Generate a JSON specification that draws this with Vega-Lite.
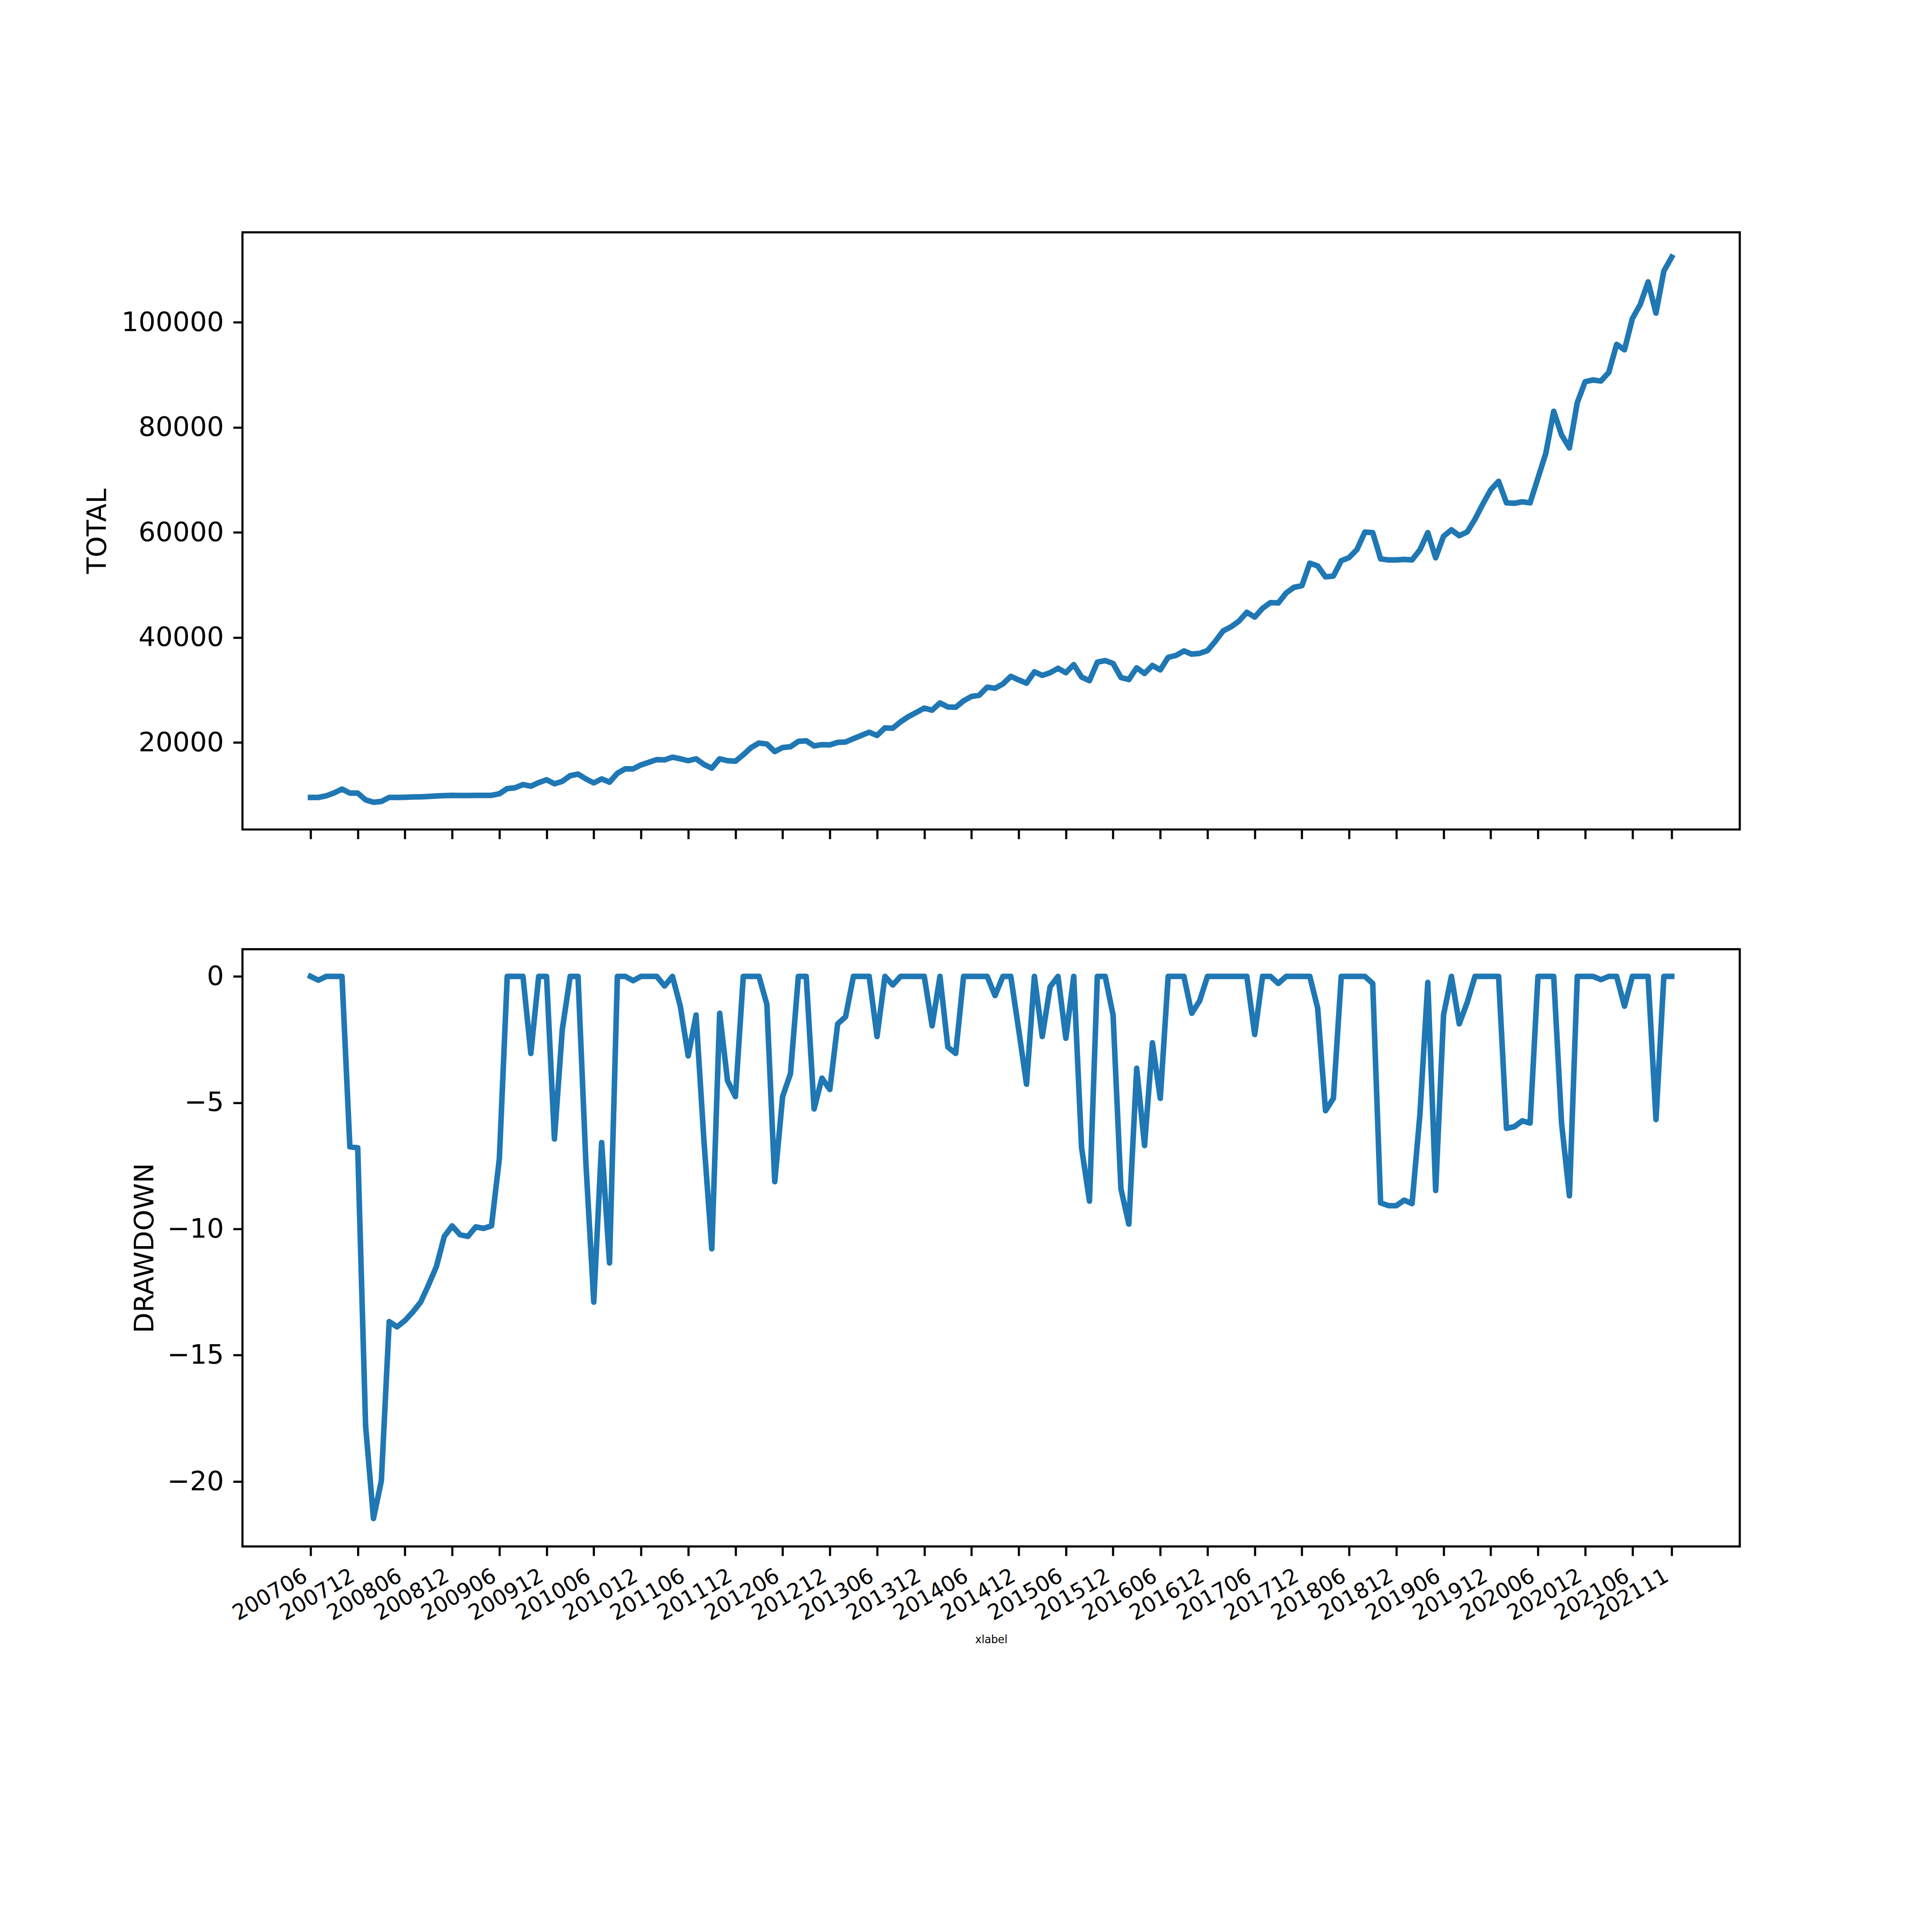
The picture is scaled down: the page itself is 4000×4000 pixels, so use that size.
{
  "$schema": "https://vega.github.io/schema/vega-lite/v6.json",
  "background": "white",
  "padding": {"left": 171, "top": 478, "right": 398, "bottom": 560},
  "bounds": "flush",
  "spacing": 247.3,
  "data": {"values": [
    {"m":"200706","total":9559,"dd":0},{"m":"200707","total":9559,"dd":-0.15},{"m":"200708","total":9865,"dd":0},{"m":"200709","total":10417,"dd":0},{"m":"200710","total":11152,"dd":0},{"m":"200711","total":10386,"dd":-6.75},{"m":"200712","total":10386,"dd":-6.79},
    {"m":"200801","total":9099,"dd":-17.8},{"m":"200802","total":8640,"dd":-21.47},{"m":"200803","total":8793,"dd":-19.98},{"m":"200804","total":9559,"dd":-13.67},{"m":"200805","total":9559,"dd":-13.88},{"m":"200806","total":9589,"dd":-13.63},{"m":"200807","total":9651,"dd":-13.29},{"m":"200808","total":9681,"dd":-12.9},{"m":"200809","total":9743,"dd":-12.22},{"m":"200810","total":9835,"dd":-11.49},{"m":"200811","total":9896,"dd":-10.3},{"m":"200812","total":9957,"dd":-9.88},
    {"m":"200901","total":9926,"dd":-10.23},{"m":"200902","total":9926,"dd":-10.3},{"m":"200903","total":9957,"dd":-9.92},{"m":"200904","total":9957,"dd":-9.98},{"m":"200905","total":9957,"dd":-9.88},{"m":"200906","total":10263,"dd":-7.22},{"m":"200907","total":11244,"dd":0},{"m":"200908","total":11397,"dd":0},{"m":"200909","total":12010,"dd":0},{"m":"200910","total":11703,"dd":-3.05},{"m":"200911","total":12377,"dd":0},{"m":"200912","total":12929,"dd":0},
    {"m":"201001","total":12163,"dd":-6.44},{"m":"201002","total":12623,"dd":-2.1},{"m":"201003","total":13695,"dd":0},{"m":"201004","total":14001,"dd":0},{"m":"201005","total":13082,"dd":-7.4},{"m":"201006","total":12316,"dd":-12.9},{"m":"201007","total":13082,"dd":-6.58},{"m":"201008","total":12469,"dd":-11.35},{"m":"201009","total":14154,"dd":0},{"m":"201010","total":15012,"dd":0},{"m":"201011","total":14987,"dd":-0.17},{"m":"201012","total":15747,"dd":0},
    {"m":"201101","total":16238,"dd":0},{"m":"201102","total":16759,"dd":0},{"m":"201103","total":16695,"dd":-0.38},{"m":"201104","total":17218,"dd":0},{"m":"201105","total":16912,"dd":-1.18},{"m":"201106","total":16544,"dd":-3.15},{"m":"201107","total":16912,"dd":-1.53},{"m":"201108","total":15839,"dd":-6.5},{"m":"201109","total":15135,"dd":-10.79},{"m":"201110","total":16912,"dd":-1.46},{"m":"201111","total":16544,"dd":-4.13},{"m":"201112","total":16452,"dd":-4.76},
    {"m":"201201","total":17678,"dd":0},{"m":"201202","total":19056,"dd":0},{"m":"201203","total":19914,"dd":0},{"m":"201204","total":19730,"dd":-1.11},{"m":"201205","total":18290,"dd":-8.13},{"m":"201206","total":19056,"dd":-4.76},{"m":"201207","total":19209,"dd":-3.85},{"m":"201208","total":20221,"dd":0},{"m":"201209","total":20343,"dd":0},{"m":"201210","total":19363,"dd":-5.25},{"m":"201211","total":19608,"dd":-4.03},{"m":"201212","total":19547,"dd":-4.48},
    {"m":"201301","total":20037,"dd":-1.88},{"m":"201302","total":20098,"dd":-1.6},{"m":"201303","total":20741,"dd":0},{"m":"201304","total":21354,"dd":0},{"m":"201305","total":21967,"dd":0},{"m":"201306","total":21354,"dd":-2.38},{"m":"201307","total":22794,"dd":0},{"m":"201308","total":22733,"dd":-0.34},{"m":"201309","total":23958,"dd":0},{"m":"201310","total":24939,"dd":0},{"m":"201311","total":25735,"dd":0},{"m":"201312","total":26562,"dd":0},
    {"m":"201401","total":26164,"dd":-1.96},{"m":"201402","total":27543,"dd":0},{"m":"201403","total":26777,"dd":-2.8},{"m":"201404","total":26716,"dd":-3.05},{"m":"201405","total":27941,"dd":0},{"m":"201406","total":28768,"dd":0},{"m":"201407","total":29013,"dd":0},{"m":"201408","total":30545,"dd":0},{"m":"201409","total":30331,"dd":-0.76},{"m":"201410","total":31158,"dd":0},{"m":"201411","total":32598,"dd":0},{"m":"201412","total":31924,"dd":-2.1},
    {"m":"201501","total":31311,"dd":-4.27},{"m":"201502","total":33456,"dd":0},{"m":"201503","total":32782,"dd":-2.38},{"m":"201504","total":33300,"dd":-0.41},{"m":"201505","total":34130,"dd":0},{"m":"201506","total":33303,"dd":-2.45},{"m":"201507","total":34835,"dd":0},{"m":"201508","total":32475,"dd":-6.79},{"m":"201509","total":31771,"dd":-8.9},{"m":"201510","total":35294,"dd":0},{"m":"201511","total":35600,"dd":0},{"m":"201512","total":35049,"dd":-1.53},
    {"m":"201601","total":32384,"dd":-8.41},{"m":"201602","total":31985,"dd":-9.81},{"m":"201603","total":34222,"dd":-3.64},{"m":"201604","total":33150,"dd":-6.7},{"m":"201605","total":34681,"dd":-2.63},{"m":"201606","total":33824,"dd":-4.83},{"m":"201607","total":36213,"dd":0},{"m":"201608","total":36581,"dd":0},{"m":"201609","total":37439,"dd":0},{"m":"201610","total":36826,"dd":-1.46},{"m":"201611","total":36979,"dd":-0.97},{"m":"201612","total":37500,"dd":0},
    {"m":"201701","total":39277,"dd":0},{"m":"201702","total":41268,"dd":0},{"m":"201703","total":42034,"dd":0},{"m":"201704","total":43107,"dd":0},{"m":"201705","total":44792,"dd":0},{"m":"201706","total":43873,"dd":-2.3},{"m":"201707","total":45558,"dd":0},{"m":"201708","total":46630,"dd":0},{"m":"201709","total":46569,"dd":-0.28},{"m":"201710","total":48468,"dd":0},{"m":"201711","total":49540,"dd":0},{"m":"201712","total":49847,"dd":0},
    {"m":"201801","total":54136,"dd":0},{"m":"201802","total":53615,"dd":-1.25},{"m":"201803","total":51532,"dd":-5.32},{"m":"201804","total":51685,"dd":-4.83},{"m":"201805","total":54596,"dd":0},{"m":"201806","total":55208,"dd":0},{"m":"201807","total":56740,"dd":0},{"m":"201808","total":60049,"dd":0},{"m":"201809","total":59957,"dd":-0.28},{"m":"201810","total":54963,"dd":-8.97},{"m":"201811","total":54749,"dd":-9.08},{"m":"201812","total":54749,"dd":-9.08},
    {"m":"201901","total":54841,"dd":-8.86},{"m":"201902","total":54749,"dd":-9.0},{"m":"201903","total":56679,"dd":-5.46},{"m":"201904","total":59957,"dd":-0.24},{"m":"201905","total":55147,"dd":-8.48},{"m":"201906","total":59252,"dd":-1.53},{"m":"201907","total":60478,"dd":0},{"m":"201908","total":59375,"dd":-1.88},{"m":"201909","total":60074,"dd":-1.04},{"m":"201910","total":62500,"dd":0},{"m":"201911","total":65400,"dd":0},{"m":"201912","total":68100,"dd":0},
    {"m":"202001","total":69715,"dd":0},{"m":"202002","total":65616,"dd":-6.02},{"m":"202003","total":65533,"dd":-5.95},{"m":"202004","total":65818,"dd":-5.72},{"m":"202005","total":65616,"dd":-5.81},{"m":"202006","total":70331,"dd":0},{"m":"202007","total":75046,"dd":0},{"m":"202008","total":83051,"dd":0},{"m":"202009","total":78539,"dd":-5.81},{"m":"202010","total":76075,"dd":-8.69},{"m":"202011","total":84688,"dd":0},{"m":"202012","total":88667,"dd":0},
    {"m":"202101","total":88998,"dd":0},{"m":"202102","total":88796,"dd":-0.13},{"m":"202103","total":90432,"dd":0},{"m":"202104","total":95772,"dd":0},{"m":"202105","total":94743,"dd":-1.18},{"m":"202106","total":100689,"dd":0},{"m":"202107","total":103355,"dd":0},{"m":"202108","total":107665,"dd":0},{"m":"202109","total":101719,"dd":-5.67},{"m":"202110","total":109715,"dd":0},{"m":"202111","total":112390,"dd":0}
  ]},
  "vconcat": [
    {
      "width": 3100,
      "height": 1236.4,
      "mark": {"type": "line", "color": "#1f77b4", "strokeWidth": 11.5, "strokeJoin": "round", "strokeCap": "square"},
      "encoding": {
        "x": {
          "field": "m", "type": "ordinal",
          "scale": {"type": "point", "padding": 0, "range": [140.9, 2959.1]},
          "axis": {
            "values": ["200706","200712","200806","200812","200906","200912","201006","201012","201106","201112","201206","201212","201306","201312","201406","201412","201506","201512","201606","201612","201706","201712","201806","201812","201906","201912","202006","202012","202106","202111"],
            "labels": false, "title": null
          }
        },
        "y": {
          "field": "total", "type": "quantitative",
          "scale": {"domain": [3456, 117096], "nice": false, "zero": false},
          "axis": {
            "values": [20000, 40000, 60000, 80000, 100000], "format": "d",
            "title": "TOTAL", "titleX": -301, "titleY": 618.2, "titleAngle": 270,
            "titleAlign": "center", "titleBaseline": "middle"
          }
        }
      }
    },
    {
      "width": 3100,
      "height": 1236.4,
      "mark": {"type": "line", "color": "#1f77b4", "strokeWidth": 11.5, "strokeJoin": "round", "strokeCap": "square"},
      "encoding": {
        "x": {
          "field": "m", "type": "ordinal",
          "scale": {"type": "point", "padding": 0, "range": [140.9, 2959.1]},
          "axis": {
            "values": ["200706","200712","200806","200812","200906","200912","201006","201012","201106","201112","201206","201212","201306","201312","201406","201412","201506","201512","201606","201612","201706","201712","201806","201812","201906","201912","202006","202012","202106","202111"],
            "labelAngle": -30, "labelAlign": "right", "labelBaseline": "top", "labelOffset": -21.5,
            "labelFontSize": 44.4, "labelOverlap": false, "labelLimit": 0, "labelBound": false, "labelFlush": false,
            "title": "xlabel", "titleFontSize": 22.2, "titleX": 1550, "titleY": 193,
            "titleAlign": "center", "titleBaseline": "middle"
          }
        },
        "y": {
          "field": "dd", "type": "quantitative",
          "scale": {"domain": [-22.575, 1.075], "nice": false, "zero": false},
          "axis": {
            "values": [-20, -15, -10, -5, 0], "format": "d",
            "title": "DRAWDOWN", "titleX": -203, "titleY": 618.2, "titleAngle": 270,
            "titleAlign": "center", "titleBaseline": "middle"
          }
        }
      }
    }
  ],
  "config": {
    "font": "DejaVu Sans",
    "view": {"stroke": "black", "strokeWidth": 4.44},
    "axis": {
      "grid": false, "domain": false, "ticks": true,
      "tickColor": "black", "tickWidth": 4.44, "tickSize": 19.4,
      "labelPadding": 19.4, "labelColor": "black", "labelFont": "DejaVu Sans", "labelFontSize": 55.6, "labelLimit": 0,
      "titleFont": "DejaVu Sans", "titleFontSize": 55.6, "titleFontWeight": "normal", "titleColor": "black"
    },
    "axisY": {"labelAlign": "right", "labelBaseline": "middle"}
  }
}
